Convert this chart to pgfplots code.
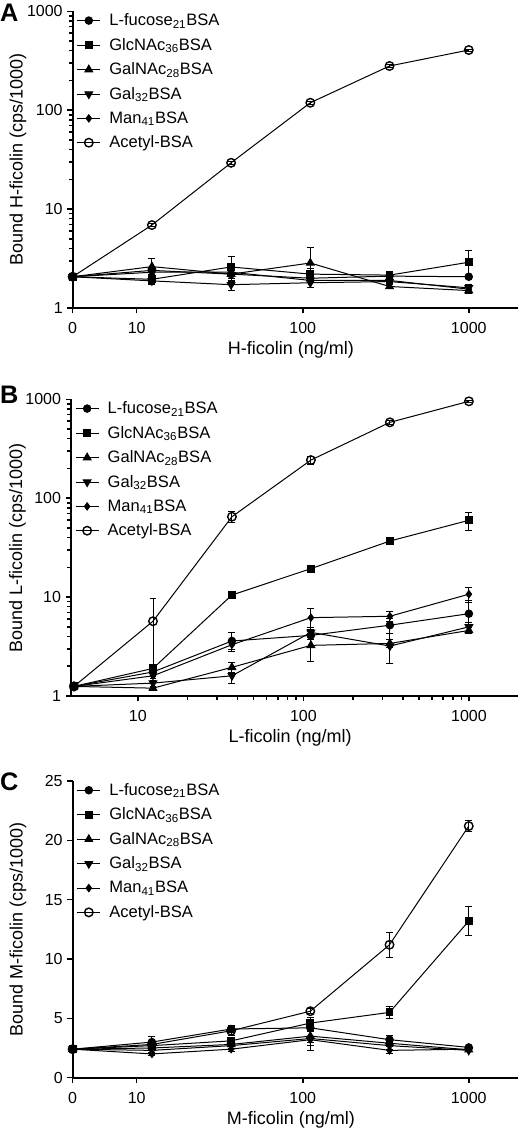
\documentclass[border=0pt]{standalone}
\usepackage{fontspec}
\setmainfont{Liberation Sans}
\usepackage{pgfplots}
\pgfplotsset{compat=1.18}
\newcommand{\sub}[1]{\textsubscript{#1}}
\pgfplotsset{
 myaxis/.style={
  scale only axis, height=222.5pt,
  axis lines=left, axis line style={line width=1.5pt,-},
  major tick length=4pt, tick align=outside,
  tick style={black, line width=1.2pt},
  clip=false,
  tick label style={font=\fontsize{12}{13}\selectfont},
  xticklabel style={yshift=-3.5pt},
  label style={font=\fontsize{13.5}{15}\selectfont},
  legend style={draw=none, fill=none, at={(0,1)}, anchor=north west, yshift=2.5pt,
    font=\fontsize{12.4}{14}\selectfont, row sep=3.9pt, column sep=4.5pt},
  legend cell align=left,
 },
 myS/.style={black, line width=0.75pt,
   error bars/y dir=both, error bars/y explicit,
   error bars/error bar style={line width=0.7pt, solid},
   error bars/error mark options={rotate=90, mark size=2.6pt, line width=0.7pt, black}},
 sFuc/.style={myS, mark=*, mark size=2.8pt, mark options={solid, fill=black}},
 sGlc/.style={myS, mark=square*, mark size=2.6pt, mark options={solid, fill=black}},
 sGalN/.style={myS, mark=triangle*, mark size=3.3pt, mark options={solid, fill=black}},
 sGal/.style={myS, mark=triangle*, mark size=3.3pt, mark options={solid, fill=black, rotate=180}},
 sMan/.style={myS, mark=diamond*, mark size=2.7pt, mark options={solid, fill=black}},
 sAce/.style={myS, mark=o, mark size=3.2pt, mark options={solid, fill=white, line width=1.05pt}},
}
\begin{document}
\begin{tikzpicture}
\useasboundingbox (0,0) rectangle (390pt,848.25pt);
% ---------------- Panel A ----------------
\begin{axis}[myaxis, at={(54.5pt,617.25pt)}, anchor=south west, width=334pt,
  xmode=log, ymode=log, xmin=4.115, xmax=1980, ymin=1, ymax=1000,
  xtick={4.115,10,100,1000}, xticklabels={0,10,100,1000},
  ytick={1,10,100,1000}, yticklabels={1,10,100,1000},
  xlabel={H-ficolin (ng/ml)}, ylabel={Bound H-ficolin (cps/1000)},
  x label style={at={(axis description cs:0.49,0)}, anchor=center, yshift=-31.5pt},
  y label style={at={(axis description cs:-0.123,0.5)}, anchor=center}]
\addplot[sFuc] coordinates {(4.115,2.07) +- (0,0) (12.35,2.4) +- (0,0.1) (37.04,2.2) +- (0,0.1) (111.1,2.0) +- (0,0.1) (333.3,2.1) +- (0,0.1) (1000,2.07) +- (0,0.05)};
\addlegendentry{L-fucose\sub{21}BSA}
\addplot[sGlc] coordinates {(4.115,2.07) +- (0,0) (12.35,1.95) +- (0,0.22) (37.04,2.6) +- (0,0.75) (111.1,2.2) +- (0,0.3) (333.3,2.15) +- (0,0.12) (1000,2.9) +- (0,0.9)};
\addlegendentry{GlcNAc\sub{36}BSA}
\addplot[sGalN] coordinates {(4.115,2.07) +- (0,0) (12.35,2.62) +- (0,0.55) (37.04,2.2) +- (0,0.2) (111.1,2.85) +- (0,1.25) (333.3,1.65) +- (0,0.08) (1000,1.5) +- (0,0.1)};
\addlegendentry{GalNAc\sub{28}BSA}
\addplot[sGal] coordinates {(4.115,2.07) +- (0,0) (12.35,1.88) +- (0,0.1) (37.04,1.72) +- (0,0.2) (111.1,1.8) +- (0,0.2) (333.3,1.85) +- (0,0.1) (1000,1.6) +- (0,0.12)};
\addlegendentry{Gal\sub{32}BSA}
\addplot[sMan] coordinates {(4.115,2.07) +- (0,0) (12.35,2.3) +- (0,0.1) (37.04,2.3) +- (0,0.1) (111.1,1.9) +- (0,0.1) (333.3,1.9) +- (0,0.08) (1000,1.55) +- (0,0.08)};
\addlegendentry{Man\sub{41}BSA}
\addplot[sAce] coordinates {(4.115,2.07) +- (0,0) (12.35,6.9) +- (0,0.3) (37.04,29.4) +- (0,1) (111.1,119) +- (0,4) (333.3,280) +- (0,8) (1000,406) +- (0,10)};
\addlegendentry{Acetyl-BSA}
\end{axis}
% ---------------- Panel B ----------------
\begin{axis}[myaxis, at={(53.25pt,326.25pt)}, anchor=south west, width=335.25pt,
  xmode=log, ymode=log, xmin=3.95, xmax=1980, ymin=1, ymax=1000,
  xtick={10,100,1000}, xticklabels={10,100,1000},
  ytick={1,10,100,1000}, yticklabels={1,10,100,1000},
  xlabel={L-ficolin (ng/ml)}, ylabel={Bound L-ficolin (cps/1000)},
  x label style={at={(axis description cs:0.49,0)}, anchor=center, yshift=-31.5pt},
  y label style={at={(axis description cs:-0.12,0.5)}, anchor=center}]
\addplot[sFuc] coordinates {(4.115,1.25) +- (0,0) (12.35,1.75) +- (0,0.1) (37.04,3.6) +- (0,0.8) (111.1,4.1) +- (0,0.4) (333.3,5.2) +- (0,0.9) (1000,6.8) +- (0,2.5)};
\addlegendentry{L-fucose\sub{21}BSA}
\addplot[sGlc] coordinates {(4.115,1.25) +- (0,0) (12.35,1.9) +- (0,0.2) (37.04,10.5) +- (0,0.5) (111.1,19.4) +- (0,1) (333.3,36.9) +- (0,1.5) (1000,59.8) +- (0,12.5)};
\addlegendentry{GlcNAc\sub{36}BSA}
\addplot[sGalN] coordinates {(4.115,1.25) +- (0,0) (12.35,1.2) +- (0,0.05) (37.04,1.95) +- (0,0.22) (111.1,3.25) +- (0,1.0) (333.3,3.4) +- (0,0.3) (1000,4.6) +- (0,0.3)};
\addlegendentry{GalNAc\sub{28}BSA}
\addplot[sGal] coordinates {(4.115,1.25) +- (0,0) (12.35,1.35) +- (0,0.1) (37.04,1.6) +- (0,0.25) (111.1,4.4) +- (0,0.5) (333.3,3.2) +- (0,1.06) (1000,5.0) +- (0,0.5)};
\addlegendentry{Gal\sub{32}BSA}
\addplot[sMan] coordinates {(4.115,1.25) +- (0,0) (12.35,1.6) +- (0,0.1) (37.04,3.3) +- (0,0.35) (111.1,6.2) +- (0,1.5) (333.3,6.4) +- (0,0.7) (1000,10.7) +- (0,1.9)};
\addlegendentry{Man\sub{41}BSA}
\addplot[sAce] coordinates {(4.115,1.25) +- (0,0) (12.35,5.7) +- (0,3.9) (37.04,65) +- (0,8) (111.1,243) +- (0,22) (333.3,585) +- (0,25) (1000,955) +- (0,30)};
\addlegendentry{Acetyl-BSA}
\end{axis}
% ---------------- Panel C ----------------
\begin{axis}[myaxis, at={(54.5pt,40pt)}, anchor=south west, width=334pt,
  xmode=log, xmin=4.115, xmax=1980, ymin=0, ymax=25,
  xtick={4.115,10,100,1000}, xticklabels={0,10,100,1000},
  ytick={0,5,10,15,20,25}, yticklabels={0,5,10,15,20,25},
  xlabel={M-ficolin (ng/ml)}, ylabel={Bound M-ficolin (cps/1000)},
  x label style={at={(axis description cs:0.49,0)}, anchor=center, yshift=-31.5pt},
  y label style={at={(axis description cs:-0.123,0.5)}, anchor=center}]
\addplot[sFuc] coordinates {(4.115,2.4) +- (0,0) (12.35,3.0) +- (0,0.5) (37.04,4.1) +- (0,0.3) (111.1,4.2) +- (0,0.3) (333.3,3.2) +- (0,0.35) (1000,2.55) +- (0,0.1)};
\addlegendentry{L-fucose\sub{21}BSA}
\addplot[sGlc] coordinates {(4.115,2.4) +- (0,0) (12.35,2.7) +- (0,0.2) (37.04,3.1) +- (0,0.3) (111.1,4.6) +- (0,0.5) (333.3,5.5) +- (0,0.5) (1000,13.2) +- (0,1.2)};
\addlegendentry{GlcNAc\sub{36}BSA}
\addplot[sGalN] coordinates {(4.115,2.4) +- (0,0) (12.35,2.5) +- (0,0.2) (37.04,2.8) +- (0,0.2) (111.1,3.5) +- (0,0.5) (333.3,2.9) +- (0,0.3) (1000,2.35) +- (0,0.1)};
\addlegendentry{GalNAc\sub{28}BSA}
\addplot[sGal] coordinates {(4.115,2.4) +- (0,0) (12.35,2.3) +- (0,0.2) (37.04,2.7) +- (0,0.2) (111.1,3.3) +- (0,0.6) (333.3,2.7) +- (0,0.3) (1000,2.3) +- (0,0.1)};
\addlegendentry{Gal\sub{32}BSA}
\addplot[sMan] coordinates {(4.115,2.4) +- (0,0) (12.35,2.0) +- (0,0.15) (37.04,2.4) +- (0,0.2) (111.1,3.2) +- (0,0.9) (333.3,2.3) +- (0,0.3) (1000,2.4) +- (0,0.1)};
\addlegendentry{Man\sub{41}BSA}
\addplot[sAce] coordinates {(4.115,2.4) +- (0,0) (12.35,2.8) +- (0,0.2) (37.04,3.95) +- (0,0.4) (111.1,5.6) +- (0,0.2) (333.3,11.2) +- (0,1.05) (1000,21.2) +- (0,0.45)};
\addlegendentry{Acetyl-BSA}
\end{axis}
% panel letters
\node[font=\bfseries\fontsize{19}{19}\selectfont] at (7pt,839pt) {A};
\node[font=\bfseries\fontsize{19}{19}\selectfont] at (7pt,552pt) {B};
\node[font=\bfseries\fontsize{19}{19}\selectfont] at (7pt,262pt) {C};
\end{tikzpicture}
\end{document}
